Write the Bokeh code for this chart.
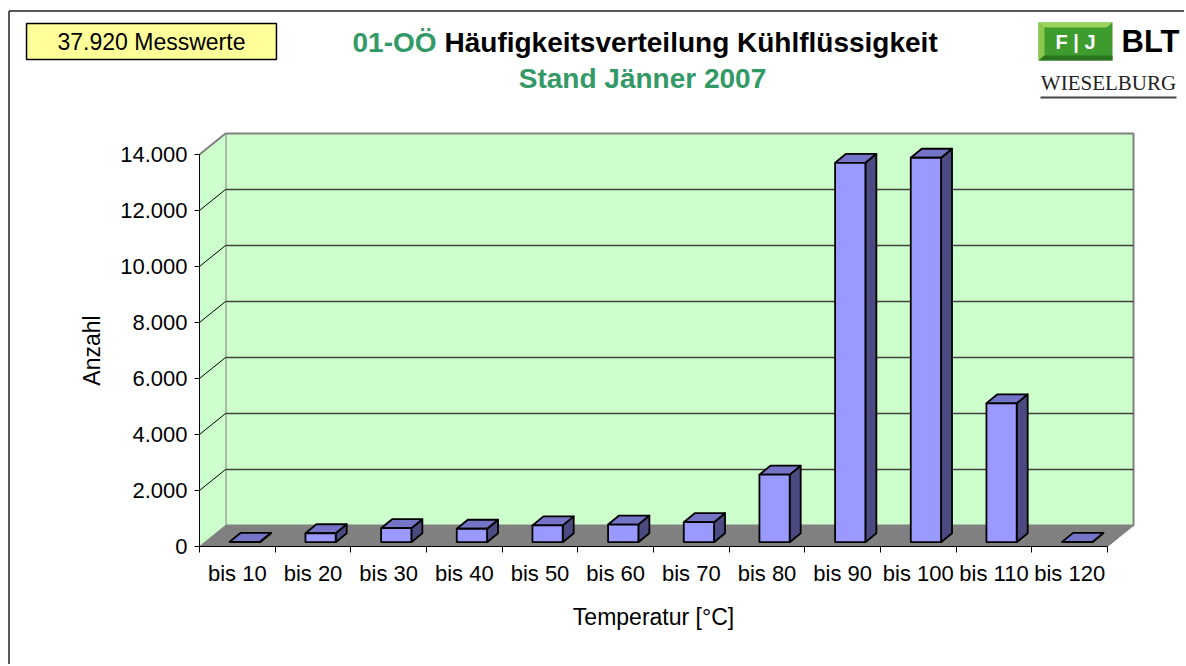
from bokeh.plotting import figure
from bokeh.models import (Range1d, LinearAxis, FixedTicker, CustomJSTickFormatter,
                          Label, ColumnDataSource)
from bokeh.embed import file_html
from bokeh.resources import INLINE

# ---------------- data ----------------
categories = ["bis 10", "bis 20", "bis 30", "bis 40", "bis 50", "bis 60",
              "bis 70", "bis 80", "bis 90", "bis 100", "bis 110", "bis 120"]
counts = [15, 320, 500, 480, 600, 630, 715, 2410, 13550, 13730, 4960, 10]
y_ticks = [0, 2000, 4000, 6000, 8000, 10000, 12000, 14000]
total_label = "37.920 Messwerte"
title_a = "01-OÖ"
title_b = "Häufigkeitsverteilung Kühlflüssigkeit"
subtitle = "Stand Jänner 2007"
x_title = "Temperatur [°C]"
y_title = "Anzahl"

# ---------------- geometry ----------------
W, H = 1184, 664
AX_X, AX_Y = 199, 546    # page position of axes corner
PX_CAT = 908 / 12        # px per category
PX_VAL = 56 / 2000       # px per count


def X(px):
    return (px - AX_X) / PX_CAT


def Y(py):
    return (AX_Y - py) / PX_VAL


ncat = len(categories)
ymax = y_ticks[-1]
DX, DY = 26 / PX_CAT, 21 / PX_VAL        # wall depth
BDX, BDY = 11 / PX_CAT, 9 / PX_VAL       # bar depth
B_LEFT, B_W = 0.40, 0.40                 # bar front face inside category
B_BASE = 4.3 / PX_VAL                    # bar floor position

FONT = "Liberation Sans"
GREEN = "#339966"

p = figure(width=W, height=H, output_backend="svg", toolbar_location=None,
           x_range=Range1d(X(0), X(W)), y_range=Range1d(Y(H), Y(0)),
           x_axis_type=None, y_axis_type=None,
           min_border_left=0, min_border_right=0, min_border_top=0,
           min_border_bottom=0)
p.outline_line_color = None
p.background_fill_color = "white"
p.border_fill_color = "white"

# outer chart border (left & top visible)
p.segment(x0=[X(8.5), X(8.5)], y0=[Y(10.5), Y(10.5)],
          x1=[X(8.5), X(W)], y1=[Y(H), Y(10.5)],
          line_color="#222222", line_width=1.5)

# ---------------- walls & floor ----------------
p.patch([DX, ncat + DX, ncat + DX, DX], [DY, DY, ymax + DY, ymax + DY],
        fill_color="#CCFFCC", line_color="#808080", line_width=2)
p.patch([0, DX, DX, 0], [0, DY, ymax + DY, ymax],
        fill_color="#CCFFCC", line_color=None)
p.patch([0, ncat, ncat + DX, DX], [0, 0, DY, DY],
        fill_color="#808080", line_color="#808080", line_width=1)

inner = y_ticks[1:-1]
p.segment(x0=[DX] * len(inner), y0=[t + DY for t in inner],
          x1=[ncat + DX] * len(inner), y1=[t + DY for t in inner],
          line_color="#404040", line_width=1.5)
p.segment(x0=[0] * len(inner), y0=inner,
          x1=[DX] * len(inner), y1=[t + DY for t in inner],
          line_color="black", line_width=1)
p.segment(x0=[0], y0=[ymax], x1=[DX], y1=[ymax + DY],
          line_color="#808080", line_width=2)

# ---------------- 3D bars ----------------
lefts = [i + B_LEFT for i in range(ncat)]
rights = [l + B_W for l in lefts]
tops = [B_BASE + v for v in counts]

side_xs = [[r, r + BDX, r + BDX, r] for r in rights]
side_ys = [[B_BASE, B_BASE + BDY, t + BDY, t] for t in tops]
top_xs = [[l, r, r + BDX, l + BDX] for l, r in zip(lefts, rights)]
top_ys = [[t, t, t + BDY, t + BDY] for t in tops]

p.patches(side_xs, side_ys, fill_color="#4B4B82", line_color="black",
          line_width=1.8, line_join="round")
p.patches(top_xs, top_ys, fill_color="#7575C8", line_color="black",
          line_width=1.8, line_join="round")
src = ColumnDataSource(dict(left=lefts, right=rights, top=tops,
                            bottom=[B_BASE] * ncat))
p.quad(left="left", right="right", top="top", bottom="bottom", source=src,
       fill_color="#9999FF", line_color="black", line_width=1.8)

# ---------------- axes ----------------
yaxis = LinearAxis(
    ticker=FixedTicker(ticks=y_ticks, minor_ticks=[]),
    formatter=CustomJSTickFormatter(
        code="return Math.round(tick).toString().replace(/\\B(?=(\\d{3})+(?!\\d))/g, '.');"),
    bounds=(0, ymax), axis_label=y_title, fixed_location=0)
yaxis.axis_line_color = "black"
yaxis.axis_line_width = 1
yaxis.major_tick_out = 5
yaxis.major_tick_in = 0
yaxis.minor_tick_line_color = None
yaxis.major_label_standoff = 7
yaxis.major_label_text_font = FONT
yaxis.major_label_text_font_size = "22px"
yaxis.major_label_text_color = "black"
yaxis.axis_label_text_font = FONT
yaxis.axis_label_text_font_size = "23px"
yaxis.axis_label_text_font_style = "normal"
yaxis.axis_label_text_color = "black"
yaxis.axis_label_standoff = 12
p.add_layout(yaxis, "left")

xaxis = LinearAxis(
    ticker=FixedTicker(ticks=[i + 0.5 for i in range(ncat)],
                       minor_ticks=list(range(ncat + 1))),
    formatter=CustomJSTickFormatter(args=dict(labels=categories),
                                    code="return labels[Math.floor(tick)];"),
    bounds=(0, ncat), axis_label=x_title, fixed_location=0)
xaxis.axis_line_color = "black"
xaxis.axis_line_width = 1
xaxis.major_tick_line_color = None
xaxis.major_tick_out = 6
xaxis.major_tick_in = 0
xaxis.minor_tick_line_color = "black"
xaxis.minor_tick_out = 6
xaxis.minor_tick_in = 0
xaxis.major_label_standoff = 8
xaxis.major_label_text_font = FONT
xaxis.major_label_text_font_size = "22px"
xaxis.major_label_text_color = "black"
xaxis.axis_label_text_font = FONT
xaxis.axis_label_text_font_size = "23px"
xaxis.axis_label_text_font_style = "normal"
xaxis.axis_label_text_color = "black"
xaxis.axis_label_standoff = 15
p.add_layout(xaxis, "below")

# ---------------- titles ----------------
p.add_layout(Label(x=X(352), y=Y(42), text=title_a, text_align="left",
                   text_baseline="middle", text_font=FONT, text_font_style="bold",
                   text_font_size="28px", text_color=GREEN))
p.add_layout(Label(x=X(444), y=Y(42), text=title_b, text_align="left",
                   text_baseline="middle", text_font=FONT, text_font_style="bold",
                   text_font_size="28px", text_color="black"))
p.add_layout(Label(x=X(642), y=Y(78), text=subtitle, text_align="center",
                   text_baseline="middle", text_font=FONT, text_font_style="bold",
                   text_font_size="28px", text_color=GREEN))

# yellow counter box
p.add_layout(Label(x=X(151), y=Y(41), text=total_label, text_align="center",
                   text_baseline="middle", text_font=FONT, text_font_size="23px",
                   text_color="black", background_fill_color="#FFFF99",
                   border_line_color="black", border_line_width=1.5,
                   padding=dict(left=31, right=31, top=5, bottom=5)))

# ---------------- logo ----------------
p.quad(left=[X(1038)], right=[X(1112)], top=[Y(22)], bottom=[Y(60)],
       fill_color="#3E9B2E", line_color=None)
p.patch([X(1038), X(1112), X(1106), X(1044)], [Y(22), Y(22), Y(27), Y(27)],
        fill_color="#9CD45C", line_color=None)
p.patch([X(1038), X(1044), X(1044), X(1038)], [Y(22), Y(27), Y(55), Y(60)],
        fill_color="#8CC84B", line_color=None)
p.patch([X(1038), X(1112), X(1112), X(1044)], [Y(60), Y(60), Y(55), Y(55)],
        fill_color="#2A7420", line_color=None)
p.add_layout(Label(x=X(1075), y=Y(41), text="F | J", text_align="center",
                   text_baseline="middle", text_font=FONT, text_font_style="bold",
                   text_font_size="20px", text_color="white"))
p.add_layout(Label(x=X(1121), y=Y(41), text="BLT", text_align="left",
                   text_baseline="middle", text_font=FONT, text_font_style="bold",
                   text_font_size="31px", text_color="black"))
p.add_layout(Label(x=X(1108), y=Y(82), text="WIESELBURG", text_align="center",
                   text_baseline="middle", text_font="Liberation Serif",
                   text_font_size="21px", text_color="#222222"))
p.segment(x0=[X(1040)], y0=[Y(97)], x1=[X(1176)], y1=[Y(97)],
          line_color="#444444", line_width=2)

open("out.html", "w").write(file_html(p, INLINE))
